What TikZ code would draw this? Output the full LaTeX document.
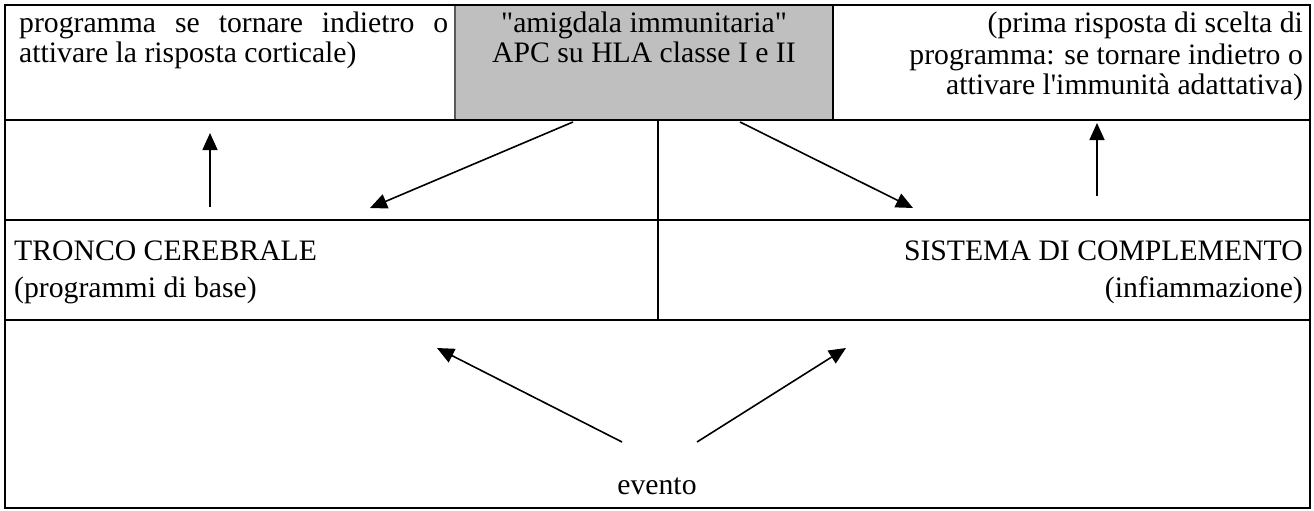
\documentclass[tikz,border=0pt]{standalone}
\usepackage{fontspec}
\setmainfont{Liberation Serif}[Ligatures=TeXOff]
\usetikzlibrary{arrows.meta}
\begin{document}
\begin{tikzpicture}[x=1pt,y=-1pt,
  rule/.style={line width=2.4pt},
  divider/.style={line width=1.5pt},
  flow/.style={line width=1.6pt,-{Triangle[length=17pt,width=15pt]}},
  txt/.style={inner sep=0pt,font=\fontsize{29.7}{31}\selectfont}]
\useasboundingbox (0,0) rectangle (1314,511);

% shaded centre cell of the top row
\fill[gray!50] (455,5) rectangle (833,120);
\draw[line width=1.5pt,gray!70!black] (455,5) -- (455,120);
\draw[rule] (833,5) -- (833,120);

% table frame and row rules
\draw[rule] (5,5) rectangle (1310,508);
\draw[rule] (5,120) -- (1310,120);
\draw[rule] (5,220) -- (1310,220);
\draw[rule] (5,320) -- (1310,320);
\draw[divider] (658,120) -- (658,320);

% top row texts
\node[txt,anchor=base west] (tl1) at (19,33) {\makebox[429pt][s]{programma se tornare indietro o}};
\node[txt,anchor=base west] (tl2) at (19,63) {attivare la risposta corticale)};
\node[txt,anchor=base] (am1) at (644,33) {"amigdala immunitaria"};
\node[txt,anchor=base] (am2) at (644,63) {APC su HLA classe I e II};
\node[txt,anchor=base east] (tr1) at (1303,33) {(prima risposta di scelta di};
\node[txt,anchor=base east] (tr2) at (1303,64) {programma: se tornare indietro o};
\node[txt,anchor=base east] (tr3) at (1303,95) {attivare l'immunità adattativa)};

% third row texts
\node[txt,anchor=base west] (tc1) at (14,260) {TRONCO CEREBRALE};
\node[txt,anchor=base west] (tc2) at (14,297) {(programmi di base)};
\node[txt,anchor=base east] (sc1) at (1303,260) {SISTEMA DI COMPLEMENTO};
\node[txt,anchor=base east] (sc2) at (1303,297) {(infiammazione)};

% bottom row text
\node[txt,anchor=base] (ev) at (657,494) {evento};

% arrow end points
\coordinate (up1s) at (210,207);
\coordinate (up1e) at (210,133);
\coordinate (dl1s) at (573,122);
\coordinate (dl1e) at (370,208);
\coordinate (dr1s) at (740,122);
\coordinate (dr1e) at (913,208);
\coordinate (up2s) at (1097,196);
\coordinate (up2e) at (1097,123);
\coordinate (evl) at (622,442);
\coordinate (evlt) at (437,348);
\coordinate (evr) at (697,442);
\coordinate (evrt) at (846,348);

\draw[flow] (up1s) -- (up1e);
\draw[flow] (dl1s) -- (dl1e);
\draw[flow] (dr1s) -- (dr1e);
\draw[flow] (up2s) -- (up2e);
\draw[flow] (evl) -- (evlt);
\draw[flow] (evr) -- (evrt);
\end{tikzpicture}
\end{document}
